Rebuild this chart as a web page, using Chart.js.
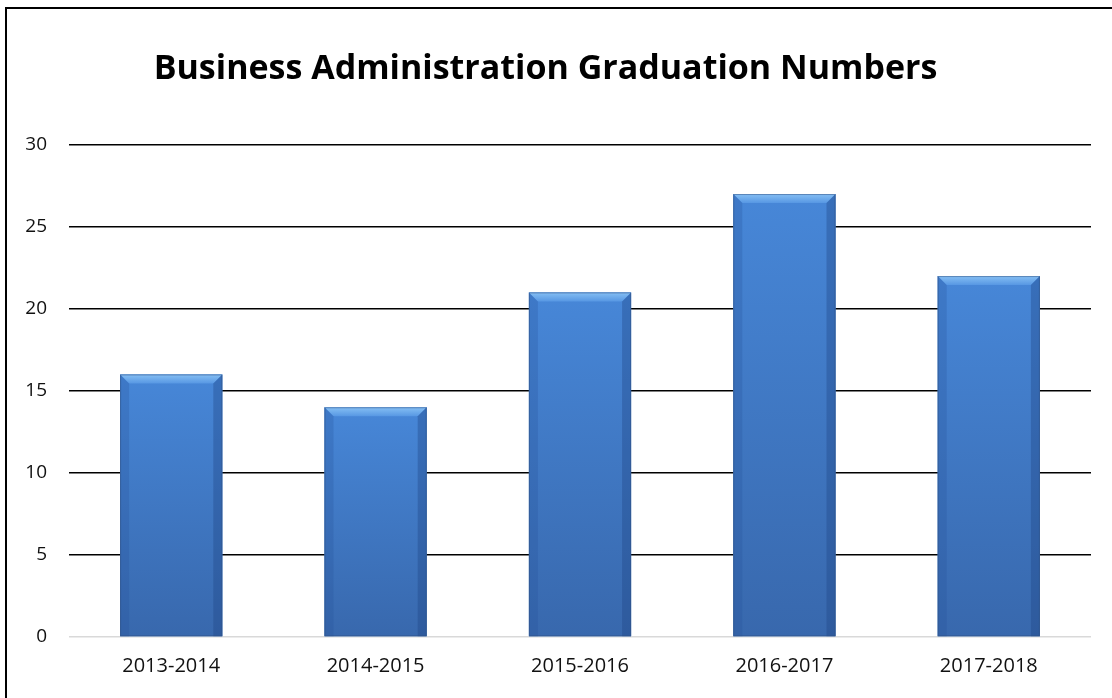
<!DOCTYPE html>
<html>
<head>
<meta charset="utf-8">
<script src="https://cdn.jsdelivr.net/npm/chart.js@4"></script>
<style>
  body { margin: 0; background: #fff; overflow: hidden; }
  #frame { position: absolute; left: 5px; top: 7px; width: 1200px; height: 800px; border: 2px solid #000; }
  #wrap { position: absolute; left: 0; top: 0; width: 1112px; height: 698px; }
</style>
</head>
<body>
<div id="frame"></div>
<div id="wrap"><canvas id="chart"></canvas></div>
<script>
const years = ['2013-2014', '2014-2015', '2015-2016', '2016-2017', '2017-2018'];
const graduates = [16, 14, 21, 27, 22];
const yTicks = [0, 5, 10, 15, 20, 25, 30];

// bevel look for the bars, drawn on top of the library's own bar elements
const bevel = {
  id: 'bevel',
  afterDatasetsDraw(chart) {
    const ctx = chart.ctx;
    chart.getDatasetMeta(0).data.forEach(bar => {
      const left = bar.x - bar.width / 2;
      const right = bar.x + bar.width / 2;
      const top = bar.y;
      const bottom = bar.base;
      const b = 9;
      ctx.save();
      let g = ctx.createLinearGradient(0, top, 0, bottom);
      g.addColorStop(0, '#4787d8');
      g.addColorStop(1, '#3868ad');
      ctx.fillStyle = g;
      ctx.fillRect(left, top, right - left, bottom - top);
      // top bevel
      ctx.beginPath();
      ctx.moveTo(left, top);
      ctx.lineTo(right, top);
      ctx.lineTo(right - b, top + b);
      ctx.lineTo(left + b, top + b);
      ctx.closePath();
      let t = ctx.createLinearGradient(0, top, 0, top + b);
      t.addColorStop(0, '#86c0f4');
      t.addColorStop(1, '#5797e3');
      ctx.fillStyle = t;
      ctx.fill();
      // side bevels
      ctx.fillStyle = 'rgba(35,80,150,0.25)';
      ctx.beginPath();
      ctx.moveTo(left, top);
      ctx.lineTo(left + b, top + b);
      ctx.lineTo(left + b, bottom);
      ctx.lineTo(left, bottom);
      ctx.closePath();
      ctx.fill();
      ctx.fillStyle = 'rgba(30,65,130,0.35)';
      ctx.beginPath();
      ctx.moveTo(right, top);
      ctx.lineTo(right - b, top + b);
      ctx.lineTo(right - b, bottom);
      ctx.lineTo(right, bottom);
      ctx.closePath();
      ctx.fill();
      ctx.strokeStyle = 'rgba(50,80,130,0.5)';
      ctx.lineWidth = 1;
      ctx.strokeRect(left + 0.5, top + 0.5, right - left - 1, bottom - top - 1);
      ctx.restore();
    });
  }
};

new Chart(document.getElementById('chart'), {
  type: 'bar',
  data: {
    labels: years,
    datasets: [{
      data: graduates,
      backgroundColor: '#3f7cc8',
      barPercentage: 0.5,
      categoryPercentage: 1.0
    }]
  },
  plugins: [bevel],
  options: {
    responsive: true,
    maintainAspectRatio: false,
    animation: false,
    layout: { padding: { left: 0, right: 21, top: 0, bottom: 0 } },
    plugins: {
      legend: { display: false },
      tooltip: { enabled: false },
      title: {
        display: true,
        text: 'Business Administration Graduation Numbers',
        color: '#000',
        font: { family: 'Open Sans', size: 34, weight: 'bold' },
        padding: { top: 49, bottom: 55 }
      }
    },
    scales: {
      x: {
        grid: { display: false, drawTicks: false },
        border: { display: false },
        ticks: { color: '#111', font: { family: 'Open Sans', size: 20 }, padding: 17 },
        afterFit(scale) { scale.height = 61; }
      },
      y: {
        min: 0,
        max: 30,
        afterBuildTicks(scale) { scale.ticks = yTicks.map(v => ({ value: v })); },
        grid: {
          color: c => c.tick && c.tick.value === 0 ? '#d9d9d9' : '#000',
          lineWidth: 1.6,
          drawTicks: false
        },
        border: { display: false },
        ticks: { color: '#111', font: { family: 'Open Sans', size: 19 }, padding: 22 },
        afterFit(scale) { scale.width = 69; }
      }
    }
  }
});
</script>
</body>
</html>
